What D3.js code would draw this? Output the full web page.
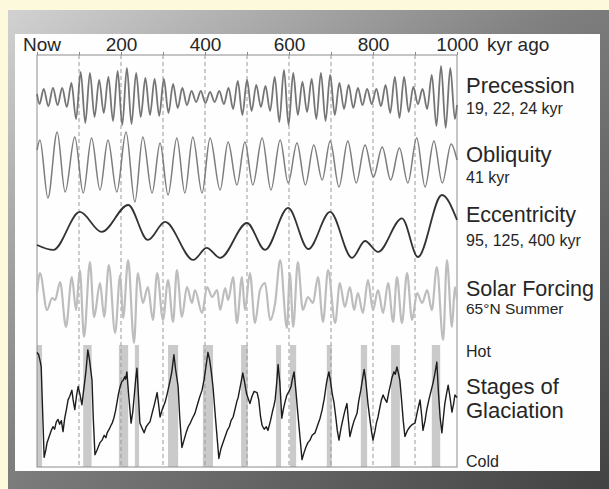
<!DOCTYPE html>
<html>
<head>
<meta charset="utf-8">
<script src="https://cdnjs.cloudflare.com/ajax/libs/d3/7.8.5/d3.min.js"></script>
<style>
body{margin:0;background:#fdf9dc;overflow:hidden;}
svg{display:block;}
text{font-family:"Liberation Sans", Arial, sans-serif;fill:#262626;}
</style>
</head>
<body>
<script>
(function(){
//time ticks along the top (kyr ago)
var tickValues = [0, 100, 200, 300, 400, 500, 600, 700, 800, 900, 1000];
var tickLabels = ["", "", "200", "", "400", "", "600", "", "800", "", "1000"];

//precession extremes (kyr ago, relative value)
var precKyr = [0,6,16,27,38,49,60,71,82,93,104,115,126,137,148,159,170,181,192,203,214,225,236,247,258,269,280,291,302,313,324,335,346,357,368,379,390,401,412,423,434,445,456,467,478,489,500,511,522,533,544,555,566,577,588,599,610,621,632,643,654,665,676,687,698,709,720,731,742,753,764,775,786,797,808,819,830,841,852,863,874,885,896,907,918,929,940,951,962,973,984,995,1000];
var precVal = [3,-7,8,-9,9,-8,9,-10,14,-22,25,-26,24,-20,17,-16,20,-24,26,-28,29,-27,24,-20,19,-18,18,-19,18,-16,13,-11,9,-8,6,-5,6,-6,5,-5,6,-7,9,-12,16,-18,17,-14,12,-10,11,-14,20,-25,27,-28,24,-18,15,-15,18,-22,24,-24,22,-18,14,-12,12,-11,9,-8,8,-7,8,-9,12,-16,20,-21,20,-15,10,-7,8,-12,22,-29,31,-31,29,-22,-8];

//obliquity extremes
var oblKyr = [0,7,26,48,67,90,110,130,150,169,190,212,233,252,274,293,312,333,352,371,393,412,436,455,476,495,514,536,557,579,598,619,639,659,679,698,719,740,760,781,801,822,842,863,883,904,924,945,965,986,1000];
var oblVal = [15,25,-33,33,-27,28,-28,27,-25,25,-27,33,-37,28,-28,22,-30,27,-28,28,-28,27,-25,23,-20,23,-20,27,-25,25,-18,22,-20,20,-15,24,-22,24,-18,20,-12,18,-15,17,-18,27,-22,24,-18,21,5];

//eccentricity extremes
var eccKyr = [0,39,102,154,217,264,305,372,404,436,500,543,598,646,698,750,781,812,869,907,964,1000];
var eccVal = [0.0150,0.0113,0.0398,0.0248,0.0450,0.0188,0.0323,0.0038,0.0128,0.0053,0.0315,0.0113,0.0428,0.0120,0.0398,0.0053,0.0180,0.0098,0.0350,0.0060,0.0525,0.0338];

//65N summer insolation (relative)
var solKyr = [0,7,24,36,43,55,69,83,93,102,112,126,136,150,160,171,186,198,205,217,231,240,252,264,276,286,300,312,324,333,345,357,369,376,393,405,417,429,436,448,455,467,476,488,495,507,519,531,543,555,567,579,595,602,610,621,633,645,657,669,681,693,710,721,733,745,755,764,776,788,800,812,824,836,848,857,869,881,893,905,917,929,940,952,967,976,988,995,1000];
var solVal = [9,29,-8,4,2,20,-25,25,-8,32,-35,40,-15,19,-15,37,-31,27,-16,42,-41,29,-1,15,-18,29,-18,22,-20,32,-15,15,-1,12,-11,15,5,12,-8,14,2,25,-21,25,-8,29,-21,12,19,-18,-1,42,-26,29,-25,40,-8,5,-1,25,-20,32,-21,19,-5,15,-8,9,-11,22,-8,12,-11,19,-20,25,-21,29,-18,9,-1,12,-8,35,-38,42,-25,15,2];

//glaciation record (0 = cold, 100 = hot)
var glacKyr = [0,4,8,10,13,17,21,24,26,30,34,38,42,46,50,54,58,62,66,70,74,78,83,86,90,94,98,102,107,110,114,117,121,125,131,134,138,143,150,155,160,164,167,172,176,179,183,187,190,194,198,202,205,209,211,214,218,224,228,232,235,238,241,245,250,255,260,264,269,274,280,286,290,293,298,305,310,317,321,326,330,336,340,345,350,355,360,365,370,376,381,387,393,398,403,407,411,415,419,425,433,438,443,448,453,458,462,467,472,476,479,484,490,494,499,503,507,512,517,524,528,532,536,541,546,550,556,561,564,567,571,574,578,583,587,591,595,600,605,608,612,616,621,626,631,636,640,645,650,655,662,668,674,679,684,688,691,695,699,703,707,711,715,719,724,729,733,738,741,745,750,755,762,766,771,775,779,783,788,793,797,800,805,808,812,817,820,824,828,833,838,842,845,850,853,857,861,864,868,872,876,882,888,894,900,906,912,916,919,924,928,933,938,943,947,952,956,960,964,968,971,975,979,983,988,992,995,1000];
var glacVal = [94,92,86,82,50,8,14,20,22,26,30,33,31,37,39,35,38,29,40,47,55,58,63,55,47,58,66,60,51,60,71,80,96,88,71,40,10,14,20,22,26,24,28,31,34,36,40,46,52,60,66,70,71,74,72,78,60,36,45,60,72,81,62,36,32,28,33,35,37,44,52,61,50,41,47,53,60,71,78,92,80,66,40,16,22,28,33,36,40,44,50,57,63,72,84,94,88,78,66,40,7,15,20,25,30,33,38,41,48,54,57,66,77,70,60,56,52,58,62,61,55,42,34,31,33,30,38,46,50,55,70,84,70,40,48,54,59,62,66,72,78,64,44,25,6,12,16,20,22,26,28,34,40,47,56,66,72,78,70,60,53,42,30,22,32,40,46,52,40,25,32,38,44,54,63,72,80,70,52,38,28,22,30,36,41,50,55,59,56,53,62,68,73,78,76,82,76,71,55,38,25,30,33,35,36,46,55,42,30,38,47,55,62,69,76,86,60,40,28,42,52,60,67,58,45,52,59,57];

//interglacial bands (start, end kyr)
var warmStart = [0,110,195,233,312,395,486,569,602,690,771,843,940];
var warmEnd = [12,130,217,243,336,419,502,581,617,702,786,864,960];

var width = 609, height = 489;

var svg = d3.select("body")
    .append("svg")
    .attr("width", width)
    .attr("height", height);

//gray gradient frame
var defs = svg.append("defs");
var grad = defs.append("linearGradient")
    .attr("id", "frameGrad")
    .attr("x1", 0).attr("y1", 0)
    .attr("x2", 1).attr("y2", 1);
grad.append("stop").attr("offset", 0).attr("stop-color", "#d2d2d2");
grad.append("stop").attr("offset", 0.45).attr("stop-color", "#818181");
grad.append("stop").attr("offset", 1).attr("stop-color", "#424242");

svg.append("rect")
    .attr("x", 8).attr("y", 10)
    .attr("width", width - 8).attr("height", height - 10)
    .style("fill", "url(#frameGrad)");

//white panel
svg.append("rect")
    .attr("x", 15).attr("y", 34)
    .attr("width", 585).attr("height", 437)
    .style("fill", "#fefefe");

//scales
var x = d3.scaleLinear().domain([0, 1000]).range([37, 457]);
var precY = d3.scaleLinear().domain([-30, 30]).range([127, 67]);
var oblY = d3.scaleLinear().domain([-35, 35]).range([200, 130]);
var eccY = d3.scaleLinear().domain([0, 0.06]).range([265, 185]);
var solY = d3.scaleLinear().domain([-40, 40]).range([342, 262]);
var glacY = d3.scaleLinear().domain([0, 100]).range([467, 345]);

//interglacial bars
svg.selectAll(".warm")
    .data(warmStart)
    .enter()
    .append("rect")
    .attr("class", "warm")
    .attr("x", function(d){ return x(d); })
    .attr("width", function(d, i){ return x(warmEnd[i]) - x(d); })
    .attr("y", glacY(100))
    .attr("height", glacY(0) - glacY(100))
    .style("fill", "#cacaca");

//dashed time lines
svg.selectAll(".grid")
    .data(tickValues.slice(1, -1))
    .enter()
    .append("line")
    .attr("class", "grid")
    .attr("x1", function(d){ return x(d); })
    .attr("x2", function(d){ return x(d); })
    .attr("y1", 55)
    .attr("y2", 467)
    .style("stroke", "#9a9a9a")
    .style("stroke-width", 1)
    .style("stroke-dasharray", "4,3");

//top axis
var axis = svg.append("g")
    .attr("transform", "translate(0,55)")
    .call(d3.axisTop(x)
        .tickValues(tickValues)
        .tickSize(3)
        .tickPadding(1)
        .tickFormat(function(d, i){ return tickLabels[i]; }));
axis.select(".domain").remove();
axis.selectAll("line").style("stroke", "#888");
axis.selectAll("text")
    .style("font-size", "19px")
    .style("font-family", "Liberation Sans, Arial, sans-serif")
    .style("fill", "#262626");

svg.append("text").attr("x", 42).attr("y", 51)
    .attr("text-anchor", "middle").style("font-size", "19px").text("Now");
svg.append("text").attr("x", 487).attr("y", 51)
    .style("font-size", "19px").text("kyr ago");

//plot frame
svg.append("rect")
    .attr("x", 37).attr("y", 55)
    .attr("width", 420).attr("height", 412)
    .style("fill", "none")
    .style("stroke", "#8c8c8c")
    .style("stroke-width", 1);

//draw one series
function drawSeries(kyr, vals, yScale, color, w, curve){
    var line = d3.line()
        .x(function(d, i){ return x(kyr[i]); })
        .y(function(d){ return yScale(d); })
        .curve(curve);
    svg.append("path")
        .datum(vals)
        .attr("d", line)
        .style("fill", "none")
        .style("stroke", color)
        .style("stroke-width", w)
        .style("stroke-linejoin", "round");
}

drawSeries(precKyr, precVal, precY, "#757575", 1.8, d3.curveMonotoneX);
drawSeries(oblKyr, oblVal, oblY, "#7c7c7c", 1.5, d3.curveMonotoneX);
drawSeries(eccKyr, eccVal, eccY, "#333", 1.8, d3.curveMonotoneX);
drawSeries(solKyr, solVal, solY, "#bdbdbd", 2.2, d3.curveMonotoneX);
drawSeries(glacKyr, glacVal, glacY, "#1c1c1c", 1.4, d3.curveLinear);

//right side labels
var labels = [
    {t: "Precession", y: 93, s: 22},
    {t: "19, 22, 24 kyr", y: 114, s: 16},
    {t: "Obliquity", y: 162, s: 22},
    {t: "41 kyr", y: 183, s: 16},
    {t: "Eccentricity", y: 222, s: 21.5},
    {t: "95, 125, 400 kyr", y: 246, s: 16},
    {t: "Solar Forcing", y: 296, s: 21.5},
    {t: "65°N Summer", y: 314, s: 15.5},
    {t: "Hot", y: 357, s: 16},
    {t: "Stages of", y: 394, s: 22},
    {t: "Glaciation", y: 418, s: 22},
    {t: "Cold", y: 467, s: 16}
];
svg.selectAll(".lbl")
    .data(labels)
    .enter()
    .append("text")
    .attr("class", "lbl")
    .attr("x", 466)
    .attr("y", function(d){ return d.y; })
    .style("font-size", function(d){ return d.s + "px"; })
    .text(function(d){ return d.t; });
})();
</script>
</body>
</html>
